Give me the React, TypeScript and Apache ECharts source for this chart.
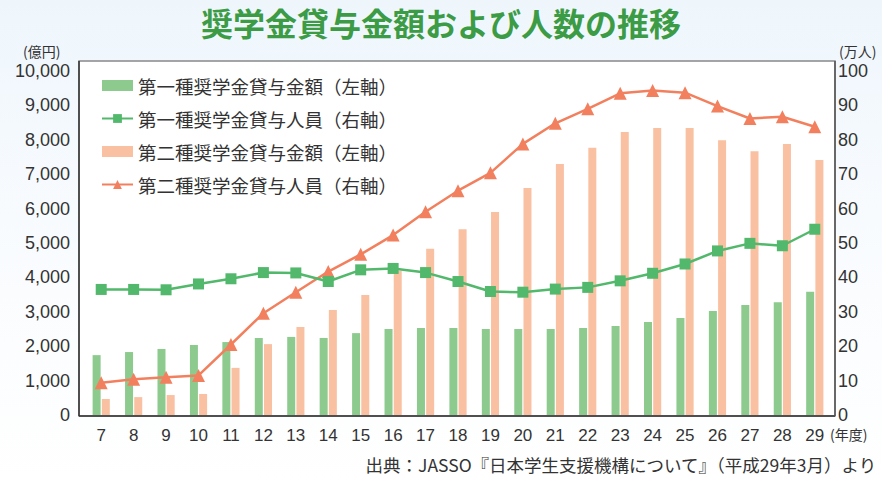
import React, { useEffect, useRef } from "react";
import * as echarts from "echarts";

const years = ["7","8","9","10","11","12","13","14","15","16","17","18","19","20","21","22","23","24","25","26","27","28","29"];
const type1Amount = [1740,1830,1920,2035,2120,2240,2270,2240,2380,2500,2530,2530,2500,2500,2500,2530,2590,2700,2820,3020,3200,3280,3580];
const type1People = [36.5,36.5,36.4,38.1,39.6,41.4,41.3,38.8,42.2,42.6,41.4,38.8,35.9,35.7,36.6,37.1,39.0,41.2,43.9,47.7,49.9,49.2,54.0];
const type2Amount = [465,520,580,610,1370,2060,2560,3050,3490,4190,4830,5400,5900,6600,7300,7770,8230,8340,8340,7990,7670,7880,7410];
const type2People = [9.4,10.4,11.0,11.5,20.5,29.6,35.7,41.7,46.7,52.3,59.1,65.2,70.4,78.8,84.8,89.0,93.5,94.3,93.7,89.8,86.2,86.7,83.8];

const seriesNames = [
  "第一種奨学金貸与金額（左軸）",
  "第一種奨学金貸与人員（右軸）",
  "第二種奨学金貸与金額（左軸）",
  "第二種奨学金貸与人員（右軸）",
];
const titleText = "奨学金貸与金額および人数の推移";
const sourceText = "出典：JASSO『日本学生支援機構について』（平成29年3月）より";

const GREEN_BAR = "#8cca8e";
const GREEN_LINE = "#52b86b";
const ORANGE_BAR = "#fac0a2";
const ORANGE_LINE = "#f2805e";
const NUM_FONT = "'Liberation Sans', Arial, sans-serif";
const CJK_FONT = "'Noto Sans CJK JP', 'Noto Sans', sans-serif";

export default function App() {
  const ref = useRef<HTMLDivElement>(null);
  useEffect(() => {
    document.body.style.margin = "0";
    const chart = echarts.init(ref.current!, null, { renderer: "svg" });
    chart.setOption({
      animation: false,
      backgroundColor: {
        type: "linear", x: 0, y: 0, x2: 0, y2: 1,
        colorStops: [
          { offset: 0, color: "#eef6fc" },
          { offset: 0.45, color: "#f8fbfe" },
          { offset: 1, color: "#ffffff" },
        ],
      },
      title: {
        text: titleText,
        left: "center",
        top: 1,
        textStyle: { fontSize: 32, fontWeight: "bold", color: "#3c9b45", fontFamily: CJK_FONT },
      },
      grid: { left: 85, right: 51, top: 71, bottom: 69 },
      legend: {
        orient: "vertical",
        left: 96,
        top: 70,
        itemWidth: 31,
        itemHeight: 11,
        itemGap: 12,
        textStyle: { fontSize: 18.5, color: "#333", fontFamily: CJK_FONT, lineHeight: 21 },
        data: [
          { name: seriesNames[0], icon: "rect" },
          { name: seriesNames[1] },
          { name: seriesNames[2], icon: "rect" },
          { name: seriesNames[3] },
        ],
      },
      xAxis: {
        type: "category",
        data: years,
        axisLine: { show: false },
        axisTick: { show: false },
        axisLabel: { fontSize: 17, color: "#333", fontFamily: NUM_FONT, margin: 12, lineHeight: 17 },
      },
      yAxis: [
        {
          type: "value",
          min: 0, max: 10000, interval: 1000,
          axisLine: { show: false },
          axisTick: { show: false },
          splitLine: { show: false },
          axisLabel: {
            fontSize: 18, color: "#333", fontFamily: NUM_FONT, margin: 15, lineHeight: 18,
            formatter: (v: number) => v.toLocaleString("en-US"),
          },
        },
        {
          type: "value",
          min: 0, max: 100, interval: 10,
          axisLine: { show: false },
          axisTick: { show: false },
          splitLine: { show: false },
          axisLabel: { fontSize: 18, color: "#333", fontFamily: NUM_FONT, margin: 7, lineHeight: 18 },
        },
      ],
      series: [
        {
          name: seriesNames[0], type: "bar", yAxisIndex: 0, data: type1Amount,
          barWidth: 8, barGap: "15%", itemStyle: { color: GREEN_BAR }, z: 2,
        },
        {
          name: seriesNames[1], type: "line", yAxisIndex: 1, data: type1People,
          symbol: "rect", symbolSize: 11,
          lineStyle: { color: GREEN_LINE, width: 2.5 }, itemStyle: { color: GREEN_LINE }, z: 5,
        },
        {
          name: seriesNames[2], type: "bar", yAxisIndex: 0, data: type2Amount,
          barWidth: 8, barGap: "15%", itemStyle: { color: ORANGE_BAR }, z: 2,
        },
        {
          name: seriesNames[3], type: "line", yAxisIndex: 1, data: type2People,
          symbol: "triangle", symbolSize: 13,
          lineStyle: { color: ORANGE_LINE, width: 2.5 }, itemStyle: { color: ORANGE_LINE }, z: 4,
        },
      ],
      graphic: [
        { type: "rect", z: -1, shape: { x: 79, y: 61, width: 756, height: 355 }, style: { fill: "#ffffff", stroke: "#888", lineWidth: 1.5 } },
        { type: "line", z: 10, shape: { x1: 79, y1: 61, x2: 79, y2: 416 }, style: { stroke: "#333", lineWidth: 1.5 } },
        { type: "line", z: 10, shape: { x1: 79, y1: 416, x2: 835, y2: 416 }, style: { stroke: "#333", lineWidth: 1.5 } },
        { type: "line", z: 10, shape: { x1: 835, y1: 61, x2: 835, y2: 416 }, style: { stroke: "#555", lineWidth: 1.5 } },
        { type: "text", left: 23, top: 44, style: { text: "(億円)", fontSize: 14, fill: "#333", fontFamily: CJK_FONT } },
        { type: "text", left: 839, top: 44, style: { text: "(万人)", fontSize: 14, fill: "#333", fontFamily: CJK_FONT } },
        { type: "text", left: 830, top: 427, style: { text: "(年度)", fontSize: 14, lineHeight: 14, fill: "#333", fontFamily: CJK_FONT } },
        { type: "text", right: 5, top: 456, style: { text: sourceText, fontSize: 17.5, fill: "#333", fontFamily: CJK_FONT } },
      ],
    });
    return () => chart.dispose();
  }, []);
  return <div ref={ref} style={{ width: 882, height: 484 }} />;
}
